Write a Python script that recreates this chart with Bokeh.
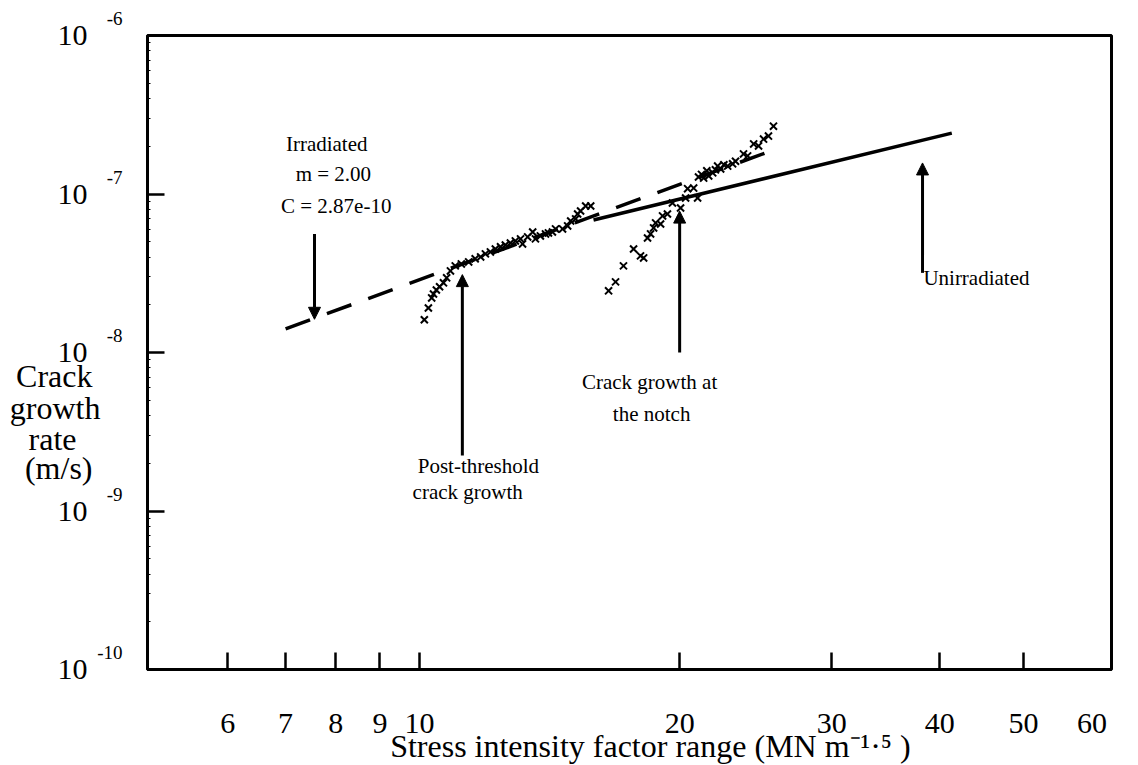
from bokeh.plotting import figure
from bokeh.models import FixedTicker, Arrow, NormalHead, ColumnDataSource, Range1d, LogAxis
from bokeh.core.properties import value
from bokeh.embed import file_html
from bokeh.resources import INLINE

FONT = "Liberation Serif"
NB = "\u00a0"

# ---- data ----
# irradiated specimen, post-threshold crack growth
irr_dk = [10.13, 10.24, 10.33, 10.38, 10.46, 10.55, 10.66, 10.75, 10.86, 11.0,
          11.18, 11.4, 11.6, 11.77, 11.92, 12.08, 12.24, 12.41, 12.57, 12.74,
          12.91, 13.09, 13.16, 13.34, 13.52, 13.62, 13.80, 13.99, 14.10, 14.25,
          14.37, 14.64, 14.84, 14.96, 15.16, 15.24, 15.36, 15.57, 15.78]
irr_rate = [1.61e-8, 1.91e-8, 2.21e-8, 2.34e-8, 2.48e-8, 2.60e-8, 2.75e-8, 2.96e-8, 3.27e-8, 3.52e-8,
            3.62e-8, 3.73e-8, 3.90e-8, 4.01e-8, 4.19e-8, 4.31e-8, 4.50e-8, 4.64e-8, 4.77e-8, 4.91e-8,
            5.06e-8, 5.21e-8, 4.84e-8, 5.36e-8, 5.76e-8, 5.21e-8, 5.44e-8, 5.60e-8, 5.68e-8, 5.76e-8,
            6.02e-8, 6.02e-8, 6.29e-8, 6.76e-8, 6.96e-8, 7.48e-8, 7.81e-8, 8.40e-8, 8.40e-8]
# crack growth at the notch
notch_dk = [16.55, 16.86, 17.22, 17.69, 18.02, 18.17, 18.36, 18.51, 18.66, 18.76,
            19.01, 19.11, 19.36, 19.62, 20.05, 20.32, 20.43, 20.76, 20.98, 21.03,
            21.2, 21.32, 21.5, 21.61, 21.84, 22.0, 22.13, 22.31, 22.5, 22.73,
            23.03, 23.21, 23.71, 23.97, 24.36, 24.68, 25.01, 25.34, 25.68]
notch_rate = [2.45e-8, 2.79e-8, 3.52e-8, 4.50e-8, 4.07e-8, 3.95e-8, 5.28e-8, 5.60e-8, 6.11e-8, 6.57e-8,
              6.47e-8, 7.27e-8, 7.48e-8, 8.78e-8, 8.16e-8, 9.44e-8, 1.08e-7, 1.09e-7, 9.44e-8, 1.28e-7,
              1.33e-7, 1.26e-7, 1.40e-7, 1.30e-7, 1.36e-7, 1.42e-7, 1.50e-7, 1.44e-7, 1.53e-7, 1.50e-7,
              1.55e-7, 1.61e-7, 1.79e-7, 1.74e-7, 2.07e-7, 2.01e-7, 2.22e-7, 2.32e-7, 2.68e-7]
# fitted Paris-law lines
fit_irr_dk = [7.0, 25.3]
fit_irr_rate = [1.41e-8, 1.84e-7]
fit_unirr_dk = [15.9, 41.3]
fit_unirr_rate = [6.86e-8, 2.42e-7]

x_ticks = [6, 7, 8, 9, 10, 20, 30, 40, 50]
x_label_ticks = [6, 7, 8, 9, 10, 20, 30, 40, 50, 60]
x_tick_labels = ["6", "7", "8", "9", "10", "20", "30", "40", "50", "60"]
y_ticks = [1e-10, 1e-9, 1e-8, 1e-7, 1e-6]
y_exponents = ["-10", "-9", "-8", "-7", "-6"]
y_minor = [m * t for t in [1e-10, 1e-9, 1e-8, 1e-7] for m in range(2, 10)]

ann_text = ["Irradiated", "m = 2.00", "C = 2.87e-10", "Post-threshold", "crack growth",
            "Crack growth at", "the notch", "Unirradiated"]
ann_dk = [7.81, 7.95, 8.01, 11.7, 11.37, 18.46, 18.56, 44.1]
ann_rate = [2.07e-7, 1.34e-7, 8.40e-8, 1.91e-9, 1.31e-9, 6.54e-9, 4.11e-9, 2.96e-8]

arrow_dk = [7.56, 11.21, 20.0, 38.2]
arrow_from = [5.6e-8, 2.24e-9, 1.0e-8, 3.18e-8]
arrow_to = [1.62e-8, 3.1e-8, 7.8e-8, 1.57e-7]

y_title_lines = ["Crack" + NB, "growth", "rate" + NB * 3, "(m/s)" + NB]
x_title = "Stress intensity factor range (MN m\u207b\u00b9\u00b7\u2075 )"

# ---- layout constants ----
X0, X1 = 4.845, 63.2
PX_PER_DECADE_Y = 158.5
y_title_offsets = [23, 55, 86, 115]          # px below the 1e-8 tick
y_title_pos = [1e-8 * 10 ** (-o / PX_PER_DECADE_Y) for o in y_title_offsets]
x_title_at = 18.5

p = figure(width=1138, height=765, x_axis_type="log", y_axis_type="log",
           x_range=Range1d(X0, X1), y_range=Range1d(1e-10, 1e-6),
           output_backend="svg", toolbar_location=None,
           min_border_left=147, min_border_right=27, min_border_top=35, min_border_bottom=96)
p.background_fill_color = "white"
p.border_fill_color = "white"
p.grid.visible = False
p.outline_line_color = "black"
p.outline_line_width = 3


def style_text_axis(ax, size, standoff):
    ax.axis_line_color = None
    ax.major_tick_in = 0
    ax.major_tick_out = 0
    ax.minor_tick_in = 0
    ax.minor_tick_out = 0
    ax.major_label_text_font = FONT
    ax.major_label_text_font_size = size
    ax.major_label_text_color = "black"
    ax.major_label_standoff = standoff


# inner axes: tick marks only
xax = p.xaxis[0]
yax = p.yaxis[0]
for ax in (xax, yax):
    ax.axis_line_color = "black"
    ax.axis_line_width = 3
    ax.major_tick_in = 17
    ax.major_tick_out = 0
    ax.major_tick_line_width = 2.5
    ax.major_tick_line_color = "black"
    ax.major_label_standoff = 0
xax.ticker = FixedTicker(ticks=x_ticks, minor_ticks=[])
xax.major_label_overrides = {t: "" for t in x_ticks}
yax.ticker = FixedTicker(ticks=y_ticks, minor_ticks=y_minor)
yax.major_label_overrides = {t: "" for t in y_ticks}
yax.minor_tick_in = 3
yax.minor_tick_out = 0
yax.minor_tick_line_color = "black"
yax.minor_tick_line_width = 1

# y: exponents (raised with a blank second line)
sup_ax = LogAxis(ticker=FixedTicker(ticks=y_ticks, minor_ticks=[]),
                 major_label_overrides={t: e + "\n" + NB for t, e in zip(y_ticks, y_exponents)})
style_text_axis(sup_ax, "19px", 25)
sup_ax.major_label_text_line_height = 1.6
p.add_layout(sup_ax, "left")

# y: mantissa "10"
ten_ax = LogAxis(ticker=FixedTicker(ticks=y_ticks, minor_ticks=[]),
                 major_label_overrides={t: "10" for t in y_ticks})
style_text_axis(ten_ax, "30px", 7)
p.add_layout(ten_ax, "left")

# y: stacked title
ytitle_ax = LogAxis(ticker=FixedTicker(ticks=y_title_pos, minor_ticks=[]),
                    major_label_overrides=dict(zip(y_title_pos, y_title_lines)))
style_text_axis(ytitle_ax, "32px", -46)
p.add_layout(ytitle_ax, "left")

# x: tick labels
xlab_ax = LogAxis(ticker=FixedTicker(ticks=x_label_ticks, minor_ticks=[]),
                  major_label_overrides=dict(zip(x_label_ticks, x_tick_labels)))
style_text_axis(xlab_ax, "30px", 44)
p.add_layout(xlab_ax, "below")

# x: title (compact box so the text can sit near the bottom edge)
xtitle_ax = LogAxis(ticker=FixedTicker(ticks=[x_title_at], minor_ticks=[]),
                    major_label_overrides={x_title_at: x_title + "\n" + NB})
style_text_axis(xtitle_ax, "32px", -8)
xtitle_ax.major_label_text_line_height = -0.3
p.add_layout(xtitle_ax, "below")

# fitted lines
p.line(fit_irr_dk, fit_irr_rate, line_color="black", line_width=3.5, line_dash="26 18")
p.line(fit_unirr_dk, fit_unirr_rate, line_color="black", line_width=3.5)

# data points
p.scatter(irr_dk, irr_rate, marker="x", size=10, line_color="black", line_width=2)
p.scatter(notch_dk, notch_rate, marker="x", size=10, line_color="black", line_width=2)

# arrows
for xd, y0, y1 in zip(arrow_dk, arrow_from, arrow_to):
    p.add_layout(Arrow(end=NormalHead(size=12, fill_color="black", line_color="black", line_width=1),
                       x_start=xd, y_start=y0, x_end=xd, y_end=y1,
                       line_color="black", line_width=3))

# annotation texts
src = ColumnDataSource(dict(x=ann_dk, y=ann_rate, text=ann_text))
p.text(x="x", y="y", text="text", source=src, text_font=value(FONT), text_font_size="21px",
       text_align="center", text_baseline="middle", text_color="black")

open("out.html", "w").write(file_html(p, INLINE))
